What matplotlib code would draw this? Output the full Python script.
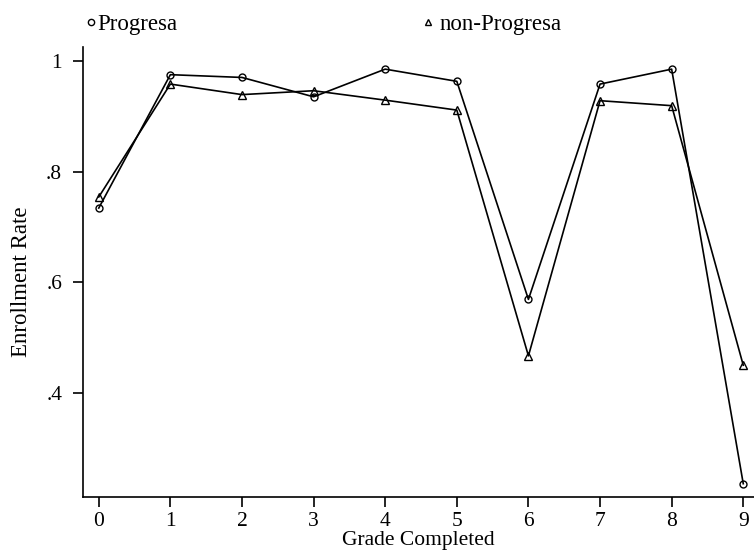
import numpy as np
import matplotlib.pyplot as plt
import matplotlib as mt

mt.rcParams['font.family'] = 'Liberation Serif'

grade = [0, 1, 2, 3, 4, 5, 6, 7, 8, 9]
progresa = [0.734, 0.975, 0.970, 0.935, 0.985, 0.963, 0.569, 0.958, 0.985, 0.236]
non_progresa = [0.754, 0.958, 0.939, 0.946, 0.929, 0.911, 0.467, 0.928, 0.919, 0.450]

fig = plt.figure(figsize=(7.54, 5.52), dpi=100)
ax = fig.add_axes([83/754, 55/552, 671/754, 450/552])

l1, = ax.plot(grade, progresa, color='k', lw=1.2, marker='o', ms=5,
              mfc='none', mec='k', mew=1.0, label='Progresa')
l2, = ax.plot(grade, non_progresa, color='k', lw=1.2, marker='^', ms=5.5,
              mfc='none', mec='k', mew=1.0, label='non-Progresa')

ax.set_xlim(-0.22, 9.15)
ax.set_ylim(0.212, 1.025)
ax.set_xticks(grade)
ax.set_yticks([0.4, 0.6, 0.8, 1.0])
ax.set_yticklabels(['.4', '.6', '.8', '1'])
ax.spines['top'].set_visible(False)
ax.spines['right'].set_visible(False)
for s in ['left', 'bottom']:
    ax.spines[s].set_linewidth(1.2)
ax.tick_params(width=1.2, length=7, labelsize=15.5, colors='k')
ax.tick_params(axis='y', pad=8)
ax.tick_params(axis='x', pad=4)
ax.set_xlabel('Grade Completed', fontsize=15.5, labelpad=0)
ax.set_ylabel('Enrollment Rate', fontsize=16.5)
ax.yaxis.set_label_coords(-0.076, 0.478)

ly = 1 - 24/552
fs = 16.5
leg1 = fig.legend([l1], ['Progresa'], loc='center left',
                  bbox_to_anchor=(85/754, ly), frameon=False, fontsize=fs,
                  handlelength=0.5, handletextpad=0.05, borderpad=0,
                  borderaxespad=0, markerscale=0.9)
leg2 = fig.legend([l2], ['non-Progresa'], loc='center left',
                  bbox_to_anchor=(422/754, ly), frameon=False, fontsize=fs,
                  handlelength=0.5, handletextpad=0.28, borderpad=0,
                  borderaxespad=0, markerscale=0.9)
for leg in (leg1, leg2):
    for h in leg.legend_handles:
        h.set_linestyle('none')

fig.savefig('out.png', dpi=100)
